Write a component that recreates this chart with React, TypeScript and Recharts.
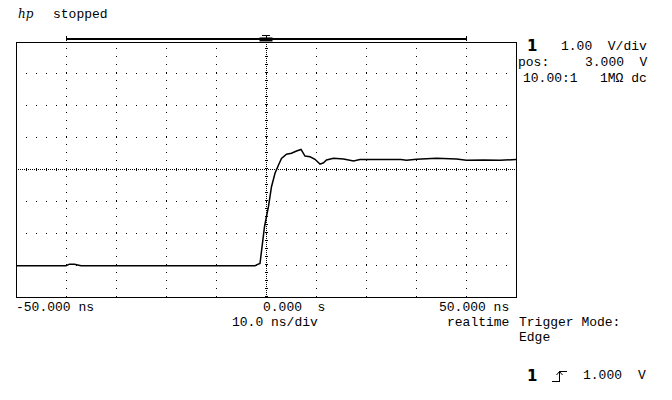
import React from 'react';
import { LineChart, Line, XAxis, YAxis, ReferenceLine, ReferenceArea } from 'recharts';

// trace: time in ns, level in volts
const timeNs = [
  -50, -45, -40, -39.3, -38.3, -37, -30, -20, -10, -2.2, -1.9, -1.2, -0.3, 0.5, 1.1, 1.8, 2.5, 3.1,
  4.1, 5.1, 6.1, 7.0, 7.8, 8.8, 9.8, 10.8, 11.5, 12.1, 13.5, 15.5, 17.5, 18.8, 22.1, 27, 28.1,
  30.1, 34.1, 38.1, 40.1, 43.5, 46.8, 50,
];
const volts = [
  -0.02, -0.02, -0.02, 0.03, 0.03, -0.02, -0.02, -0.02, -0.02, -0.02, 0.01, 0.05, 1.21, 1.84, 2.46,
  2.88, 3.14, 3.35, 3.48, 3.51, 3.58, 3.63, 3.42, 3.4, 3.32, 3.17, 3.21, 3.3, 3.35, 3.33, 3.27, 3.31,
  3.31, 3.31, 3.29, 3.32, 3.35, 3.33, 3.29, 3.3, 3.29, 3.31,
];

const timeDomain = [-50, 50];
const voltDomain = [-1, 7];
const timeGrid = [-40, -30, -20, -10, 10, 20, 30, 40];
const voltGrid = [0, 1, 2, 4, 5, 6];

const data = timeNs.map((t, i) => ({ t, v: volts[i] }));

const mono = '"Liberation Mono", "DejaVu Sans Mono", monospace';

function Label({ x, y, text, size = 13, bold = false }: { x: number; y: number; text: string; size?: number; bold?: boolean }) {
  return (
    <div
      style={{
        position: 'absolute',
        left: x,
        top: y - 8,
        fontFamily: bold ? '"DejaVu Sans", sans-serif' : mono,
        fontSize: size,
        lineHeight: '16px',
        fontWeight: bold ? 700 : 400,
        whiteSpace: 'pre',
        color: '#000',
      }}
    >
      {text}
    </div>
  );
}

export default function App() {
  const dot = { stroke: '#000', strokeWidth: 1, shapeRendering: 'crispEdges' } as any;
  return (
    <div style={{ position: 'absolute', left: 0, top: 0, width: 672, height: 400, background: '#fff', overflow: 'hidden' }}>
      <LineChart width={672} height={400} data={data} margin={{ top: 42, right: 156, bottom: 103, left: 16 }}>
        <XAxis type="number" dataKey="t" domain={timeDomain} hide allowDataOverflow />
        <YAxis type="number" domain={voltDomain} hide allowDataOverflow />

        {timeGrid.map((t) => (
          <ReferenceLine key={'x' + t} x={t} {...dot} strokeDasharray="1 7" />
        ))}
        {voltGrid.map((v) => (
          <ReferenceLine key={'y' + v} y={v} {...dot} strokeDasharray="1 9" />
        ))}
        <ReferenceLine x={0} {...dot} strokeDasharray="1 1" />
        <ReferenceLine x={0} stroke="#000" strokeWidth={3} strokeDasharray="1 7" shapeRendering="crispEdges" />
        <ReferenceLine y={3} {...dot} strokeDasharray="1 1" />
        <ReferenceLine y={3} stroke="#000" strokeWidth={3} strokeDasharray="1 9" shapeRendering="crispEdges" />

        <ReferenceArea x1={-50} x2={50} y1={-1} y2={7} fill="none" stroke="#000" strokeWidth={1} shapeRendering="crispEdges" />

        {/* time window bar and trigger marker above the grid */}
        <ReferenceLine segment={[{ x: -40, y: 7.094 }, { x: 40, y: 7.094 }]} ifOverflow="visible" {...dot} strokeWidth={1.5} />
        <ReferenceLine segment={[{ x: -40, y: 7.02 }, { x: -40, y: 7.19 }]} ifOverflow="visible" {...dot} />
        <ReferenceLine segment={[{ x: 40, y: 7.02 }, { x: 40, y: 7.19 }]} ifOverflow="visible" {...dot} />
        <ReferenceLine segment={[{ x: -1.3, y: 7.08 }, { x: 1.3, y: 7.08 }]} ifOverflow="visible" stroke="#000" strokeWidth={4} />
        <ReferenceLine segment={[{ x: -0.8, y: 7.19 }, { x: 0.8, y: 7.19 }]} ifOverflow="visible" {...dot} />
        <ReferenceLine segment={[{ x: 0, y: 7.19 }, { x: 0, y: 7.12 }]} ifOverflow="visible" {...dot} />

        <Line type="linear" dataKey="v" stroke="#000" strokeWidth={1.5} dot={false} isAnimationActive={false} />
      </LineChart>

      <div style={{ position: 'absolute', left: 18, top: 7, fontFamily: '"DejaVu Serif", serif', fontStyle: 'italic', fontSize: 12 }}>hp</div>
      <Label x={53} y={15} text="stopped" />

      <Label x={527} y={46} text="1" size={15} bold />
      <Label x={561} y={47} text="1.00  V/div" />
      <Label x={518} y={63} text="pos:" />
      <Label x={585} y={63} text="3.000  V" />
      <Label x={523} y={79} text="10.00:1" />
      <Label x={600} y={79} text="1MΩ dc" />

      <Label x={16} y={308} text="-50.000 ns" />
      <Label x={263} y={308} text="0.000  s" />
      <Label x={439} y={308} text="50.000 ns" />
      <Label x={232} y={323} text="10.0 ns/div" />
      <Label x={447} y={323} text="realtime" />
      <Label x={519} y={323} text="Trigger Mode:" />
      <Label x={519} y={338} text="Edge" />

      <Label x={527} y={376} text="1" size={15} bold />
      <svg style={{ position: 'absolute', left: 551, top: 369 }} width={18} height={14}>
        <path d="M1 12.5 H8.5 V2.5 H16" fill="none" stroke="#000" strokeWidth={1} shapeRendering="crispEdges" />
        <path d="M5.5 6 L8.5 2.5 L11.5 6" fill="none" stroke="#000" strokeWidth={1} />
      </svg>
      <Label x={583} y={376} text="1.000" />
      <Label x={638} y={376} text="V" />
    </div>
  );
}
